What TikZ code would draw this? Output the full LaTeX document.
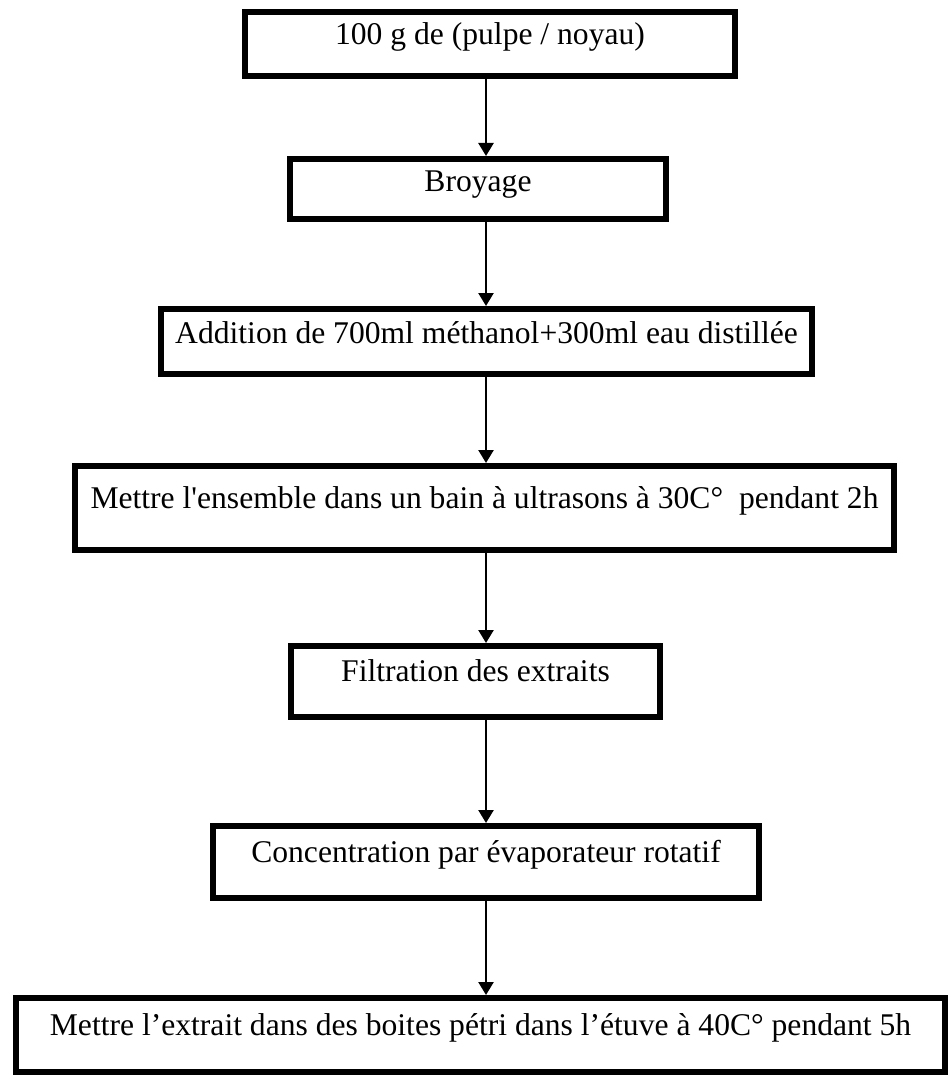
\documentclass[tikz,border=0pt]{standalone}
\usepackage{fontspec}
\setmainfont{Liberation Serif}
\usetikzlibrary{arrows.meta, positioning}

\begin{document}
\begin{tikzpicture}[
		x=1pt, y=-1pt,
		etape/.style args = {#1/#2}{%
			draw, line width=6pt, fill=white, inner sep=0pt,
			minimum width=#1, minimum height=#2,
			text height=0.7em, text depth=0.25em,
			font=\fontsize{31.6}{38}\selectfont},
		haut/.style = {text depth=0.61em},
		fleche/.style = {-{Triangle[width=15pt,length=13pt]}, line width=2.5pt}
                    ]
		\useasboundingbox (0,0) rectangle (948,1075);
		\coordinate (axe) at (486,0);

		\node(E1) [etape=490pt/64pt, haut] at (490, 44) {100 g de (pulpe / noyau)};
		\node(E2) [etape=376pt/60pt] at (478, 189) {Broyage};
		\node(E3) [etape=651pt/65pt] at (486.5, 341.5) {Addition de 700ml méthanol+300ml eau distillée};
		\node(E4) [etape=819pt/84pt, haut] at (484.5, 508) {Mettre l\textquotesingle ensemble dans un bain à ultrasons à 30C°\ \ pendant 2h};
		\node(E5) [etape=369pt/71pt, haut] at (475.5, 681.5) {Filtration des extraits};
		\node(E6) [etape=546pt/72pt, haut] at (486, 862) {Concentration par évaporateur rotatif};
		\node(E7) [etape=929pt/74pt, haut] at (480.5, 1035) {Mettre l’extrait dans des boites pétri dans l’étuve à 40C° pendant 5h};

		\draw[fleche] (E1.south -| axe) -- (E2.north -| axe);
		\draw[fleche] (E2.south -| axe) -- (E3.north -| axe);
		\draw[fleche] (E3.south -| axe) -- (E4.north -| axe);
		\draw[fleche] (E4.south -| axe) -- (E5.north -| axe);
		\draw[fleche] (E5.south -| axe) -- (E6.north -| axe);
		\draw[fleche] (E6.south -| axe) -- (E7.north -| axe);
	\end{tikzpicture}
\end{document}
